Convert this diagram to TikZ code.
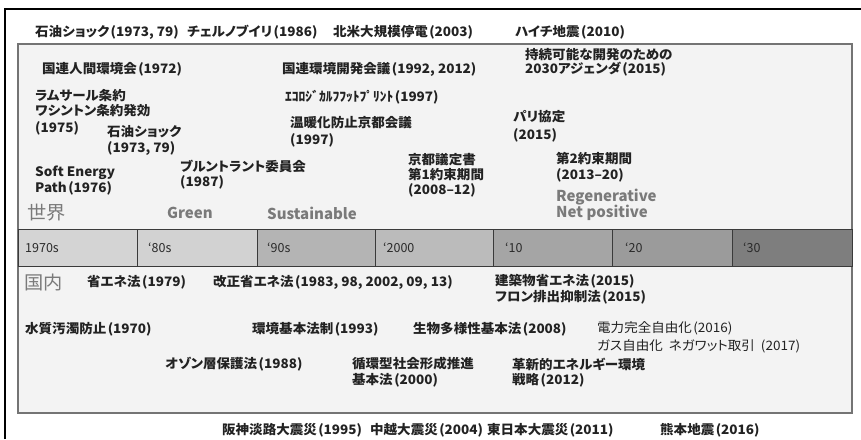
\documentclass[tikz,border=0pt]{standalone}
\usepackage{fontspec}
\setmainfont{Noto Sans CJK JP}[FakeStretch=1.04,RawFeature=+palt]
\newfontfamily\plainfont{Noto Sans CJK JP}
\newcommand{\lpar}{\kern1.5pt(}
\definecolor{ink}{HTML}{222222}
\definecolor{eragray}{HTML}{7A7A7A}
\definecolor{boxfill}{HTML}{F3F3F3}
\definecolor{boxedge}{HTML}{747474}
\definecolor{celledge}{HTML}{3A3A3A}
\definecolor{bandink}{HTML}{2A2A2A}
\definecolor{cA}{HTML}{D4D4D4}
\definecolor{cB}{HTML}{D2D2D2}
\definecolor{cC}{HTML}{B4B4B4}
\definecolor{cD}{HTML}{BBBBBB}
\definecolor{cE}{HTML}{A5A5A5}
\definecolor{cF}{HTML}{9B9B9B}
\definecolor{cG}{HTML}{7E7E7E}
\tikzset{
  ev/.style={anchor=west, inner sep=0pt, text=ink, font=\bfseries\fontsize{13}{14}\selectfont},
  evlight/.style={anchor=west, inner sep=0pt, text=ink, font=\fontsize{13}{14}\selectfont},
  era/.style={anchor=west, inner sep=0pt, text=eragray, font=\plainfont\bfseries\fontsize{15}{16}\selectfont},
  regionlbl/.style={anchor=west, inner sep=0pt, text=eragray, font=\fontsize{18.5}{19}\selectfont},
  decade/.style={anchor=west, inner sep=0pt, text=bandink, font=\plainfont\fontsize{12.5}{14}\selectfont},
  cellbox/.style={draw=celledge, line width=0.8pt},
}
\begin{document}
\begin{tikzpicture}[x=1pt,y=-1pt]
\useasboundingbox (0,0) rectangle (861,439);
% outer frame
\draw[line width=1.2pt] (5,439) -- (5,9) -- (861,9);
% inner box
\draw[fill=boxfill, draw=boxedge, line width=1.8pt] (18,44) rectangle (852,413);
% decade band
\path[cellbox, fill=cA] (18,229) rectangle (137,266);
\path[cellbox, fill=cB] (137,229) rectangle (257,266);
\path[cellbox, fill=cC] (257,229) rectangle (375,266);
\path[cellbox, fill=cD] (375,229) rectangle (493,266);
\path[cellbox, fill=cE] (493,229) rectangle (612,266);
\path[cellbox, fill=cF] (612,229) rectangle (732,266);
\path[cellbox, fill=cG] (732,229) rectangle (852,266);
\node[decade] (d70) at (25,248) {1970s};
\node[decade] (d80) at (148,248) {‘80s};
\node[decade] (d90) at (267,248) {‘90s};
\node[decade] (d00) at (383,248) {‘2000};
\node[decade] (d10) at (505,248) {‘10};
\node[decade] (d20) at (625,248) {‘20};
\node[decade] (d30) at (743,248) {‘30};
% top row (disasters)
\node[ev] (t1) at (35,32) {石油ショック\lpar 1973, 79)};
\node[ev] (t2) at (187,32) {チェルノブイリ\lpar 1986)};
\node[ev] (t3) at (333,32) {北米大規模停電\lpar 2003)};
\node[ev] (t4) at (515,32) {ハイチ地震\lpar 2010)};
% world
\node[ev] (w1) at (42,69) {国連人間環境会\lpar 1972)};
\node[ev] (w2a) at (35,96) {ラムサール条約};
\node[ev] (w2b) at (35,111) {ワシントン条約発効};
\node[ev] (w2c) at (35,128) {(1975)};
\node[ev] (w3a) at (107,132) {石油ショック};
\node[ev] (w3b) at (107,149) {(1973, 79)};
\node[ev] (w4a) at (35,173) {Soft Energy};
\node[ev] (w4b) at (35,188) {Path\lpar 1976)};
\node[ev] (w5a) at (180,166) {ブルントラント委員会};
\node[ev] (w5b) at (180,182) {(1987)};
\node[ev] (w6) at (282,69) {国連環境開発会議\lpar 1992, 2012)};
\node[ev] (w7) at (285,97) {ｴｺﾛｼﾞｶﾙﾌﾌｯﾄﾌﾟﾘﾝﾄ\lpar 1997)};
\node[ev] (w8a) at (290,123) {温暖化防止京都会議};
\node[ev] (w8b) at (290,140) {(1997)};
\node[ev] (w9a) at (408,160) {京都議定書};
\node[ev] (w9b) at (408,175) {第1約束期間};
\node[ev] (w9c) at (408,190) {(2008–12)};
\node[ev] (w10a) at (525,55) {持続可能な開発のための};
\node[ev] (w10b) at (525,69) {2030アジェンダ\lpar 2015)};
\node[ev] (w11a) at (513,117) {パリ協定};
\node[ev] (w11b) at (513,135) {(2015)};
\node[ev] (w12a) at (556,159) {第2約束期間};
\node[ev] (w12b) at (556,175) {(2013–20)};
\node[regionlbl] (world) at (27,213) {世界};
\node[era] (green) at (167,213) {Green};
\node[era] (sust) at (267,213) {Sustainable};
\node[era] (regen) at (556,197) {Regenerative};
\node[era] (netp) at (556,213) {Net positive};
% domestic
\node[regionlbl] (dom) at (24,282) {国内};
\node[ev] (j1) at (87,282) {省エネ法\lpar 1979)};
\node[ev] (j2) at (213,282) {改正省エネ法\lpar 1983, 98, 2002, 09, 13)};
\node[ev] (j3a) at (495,281) {建築物省エネ法\lpar 2015)};
\node[ev] (j3b) at (495,297) {フロン排出抑制法\lpar 2015)};
\node[ev] (j4) at (25,329) {水質汚濁防止\lpar 1970)};
\node[ev] (j5) at (252,329) {環境基本法制\lpar 1993)};
\node[ev] (j6) at (413,329) {生物多様性基本法\lpar 2008)};
\node[evlight] (j7a) at (597,328) {電力完全自由化\lpar 2016)};
\node[evlight] (j7b) at (597,346) {ガス自由化\ \ ネガワット取引\ \ (2017)};
\node[ev] (j8) at (165,364) {オゾン層保護法\lpar 1988)};
\node[ev] (j9a) at (352,364) {循環型社会形成推進};
\node[ev] (j9b) at (352,380) {基本法\lpar 2000)};
\node[ev] (j10a) at (512,364) {革新的エネルギー環境};
\node[ev] (j10b) at (512,380) {戦略\lpar 2012)};
% bottom row (disasters)
\node[ev] (b1) at (222,430) {阪神淡路大震災\lpar 1995)};
\node[ev] (b2) at (370,430) {中越大震災\lpar 2004)};
\node[ev] (b3) at (487,430) {東日本大震災\lpar 2011)};
\node[ev] (b4) at (660,430) {熊本地震\lpar 2016)};
\end{tikzpicture}
\end{document}
